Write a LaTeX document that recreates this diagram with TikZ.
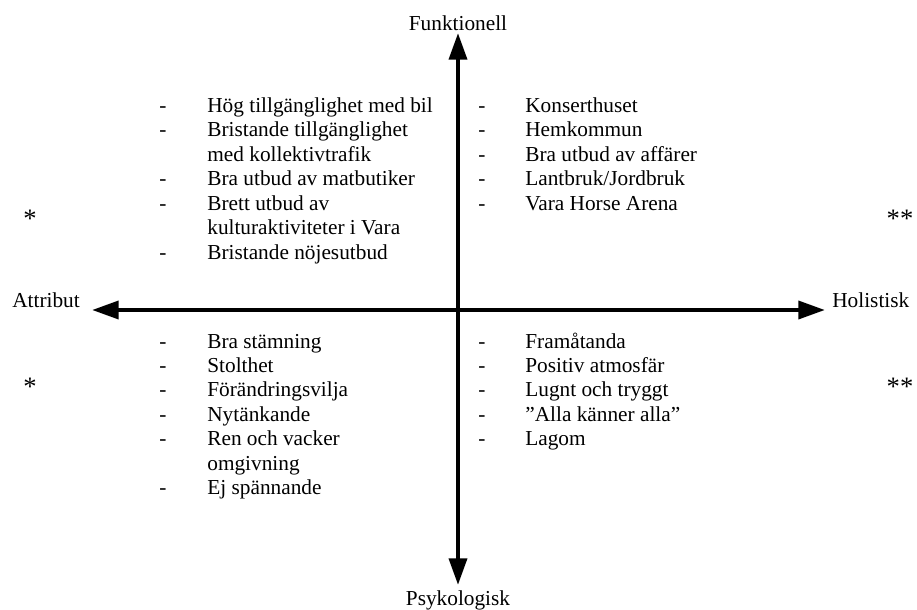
\documentclass[tikz,border=0pt]{standalone}
\usepackage{fontspec}
\setmainfont{Liberation Serif}
\usetikzlibrary{arrows.meta}

\begin{document}
\begin{tikzpicture}[
		x=0.5634pt, y=-0.5634pt,
		every node/.style={inner sep=0pt, font=\fontsize{12}{13.8}\selectfont},
		axis/.style={line width=2.4pt, {Triangle[length=15pt, width=10pt]}-{Triangle[length=15pt, width=10pt]}},
		pole/.style={anchor=base},
		side/.style={anchor=base west},
		hyph/.style={anchor=base west},
		entry/.style={anchor=base west},
		starmark/.style={anchor=base, scale=1.25}
	]
  \useasboundingbox (0,0) rectangle (917,610);
  % axes
  \coordinate (top) at (458,33);
  \coordinate (bottom) at (458,585);
  \coordinate (left) at (92,310);
  \coordinate (right) at (825,310);
  \draw[axis] (bottom) -- (top);
  \draw[axis] (left) -- (right);
  \node (funk) [pole] at (458,31) {Funktionell};
  \node (psyk) [pole] at (458,605) {Psykologisk};
  \node (attr) [side] at (12,307) {Attribut};
  \node (holi) [side] at (832,307) {Holistisk};
  % stars
  \node (s1) [starmark] at (30,227) {*};
  \node (s2) [starmark] at (30,395) {*};
  \node (s3) [starmark] at (900,227) {**};
  \node (s4) [starmark] at (900,395) {**};
  % funktionell / attribut
  \node (fa1d) [hyph] at (159,112) {-};
  \node (fa1) [entry] at (207,112) {Hög tillgänglighet med bil};
  \node (fa2d) [hyph] at (159,136.5) {-};
  \node (fa2) [entry] at (207,136.5) {Bristande tillgänglighet};
  \node (fa2b) [entry] at (207,161) {med kollektivtrafik};
  \node (fa3d) [hyph] at (159,185.5) {-};
  \node (fa3) [entry] at (207,185.5) {Bra utbud av matbutiker};
  \node (fa4d) [hyph] at (159,210) {-};
  \node (fa4) [entry] at (207,210) {Brett utbud av};
  \node (fa4b) [entry] at (207,234.5) {kulturaktiviteter i Vara};
  \node (fa5d) [hyph] at (159,259) {-};
  \node (fa5) [entry] at (207,259) {Bristande nöjesutbud};
  % funktionell / holistisk
  \node (fh1d) [hyph] at (478,112) {-};
  \node (fh1) [entry] at (525,112) {Konserthuset};
  \node (fh2d) [hyph] at (478,136.5) {-};
  \node (fh2) [entry] at (525,136.5) {Hemkommun};
  \node (fh3d) [hyph] at (478,161) {-};
  \node (fh3) [entry] at (525,161) {Bra utbud av affärer};
  \node (fh4d) [hyph] at (478,185.5) {-};
  \node (fh4) [entry] at (525,185.5) {Lantbruk/Jordbruk};
  \node (fh5d) [hyph] at (478,210) {-};
  \node (fh5) [entry] at (525,210) {Vara Horse Arena};
  % psykologisk / attribut
  \node (pa1d) [hyph] at (159,348) {-};
  \node (pa1) [entry] at (207,348) {Bra stämning};
  \node (pa2d) [hyph] at (159,372.4) {-};
  \node (pa2) [entry] at (207,372.4) {Stolthet};
  \node (pa3d) [hyph] at (159,396.8) {-};
  \node (pa3) [entry] at (207,396.8) {Förändringsvilja};
  \node (pa4d) [hyph] at (159,421.2) {-};
  \node (pa4) [entry] at (207,421.2) {Nytänkande};
  \node (pa5d) [hyph] at (159,445.6) {-};
  \node (pa5) [entry] at (207,445.6) {Ren och vacker};
  \node (pa5b) [entry] at (207,470) {omgivning};
  \node (pa6d) [hyph] at (159,494.4) {-};
  \node (pa6) [entry] at (207,494.4) {Ej spännande};
  % psykologisk / holistisk
  \node (ph1d) [hyph] at (478,348) {-};
  \node (ph1) [entry] at (525,348) {Framåtanda};
  \node (ph2d) [hyph] at (478,372.4) {-};
  \node (ph2) [entry] at (525,372.4) {Positiv atmosfär};
  \node (ph3d) [hyph] at (478,396.8) {-};
  \node (ph3) [entry] at (525,396.8) {Lugnt och tryggt};
  \node (ph4d) [hyph] at (478,421.2) {-};
  \node (ph4) [entry] at (525,421.2) {”Alla känner alla”};
  \node (ph5d) [hyph] at (478,445.6) {-};
  \node (ph5) [entry] at (525,445.6) {Lagom};
\end{tikzpicture}
\end{document}
